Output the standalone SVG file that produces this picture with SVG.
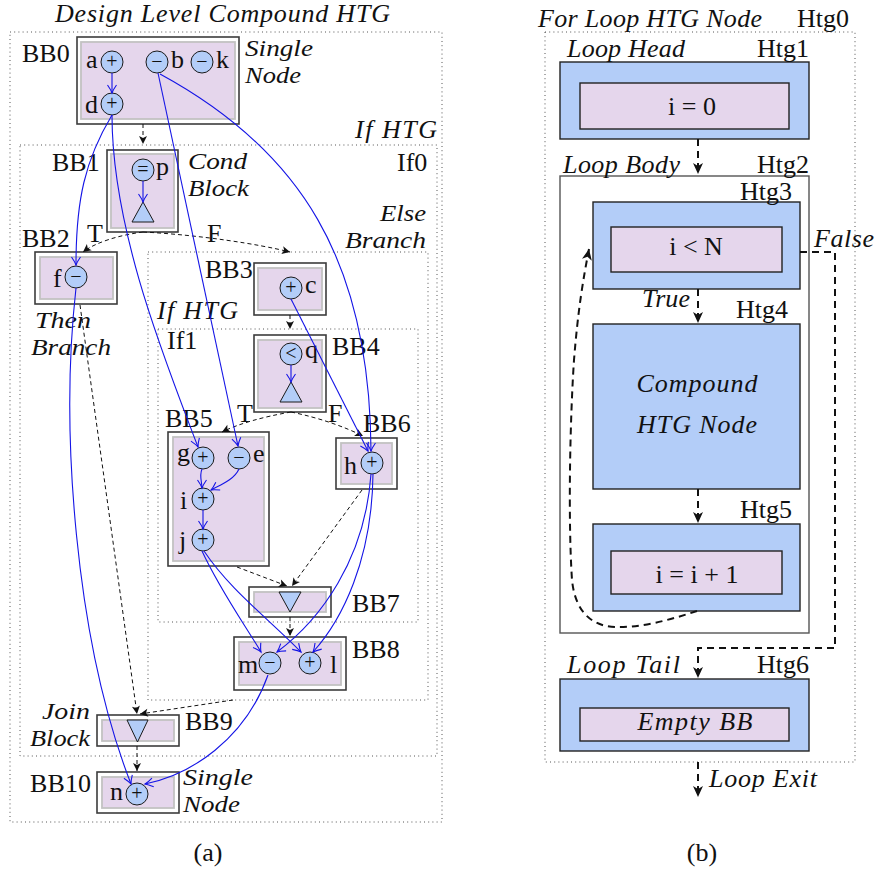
<svg xmlns="http://www.w3.org/2000/svg" width="876" height="877" viewBox="0 0 876 877">
<style>
  text { font-family: "Liberation Serif", "Times New Roman", serif; fill: #111; }
  .lb { font-size: 26px; }
  .it { font-size: 26px; font-style: italic; }
  .it2 { font-size: 24px; font-style: italic; }
  .sym { font-size: 20px; text-anchor: middle; }
  .bbo { fill: #fff; stroke: #3c3c3c; stroke-width: 1.6; }
  .bbi { fill: #e5d6ec; stroke: #c2c2c2; stroke-width: 1.8; }
  .op { fill: #b3cdf8; stroke: #1a1a1a; stroke-width: 1; }
  .region { fill: none; stroke: #555; stroke-width: 1; stroke-dasharray: 1 3.2; }
  .df { fill: none; stroke: #1414e6; stroke-width: 1.1; marker-end: url(#va); }
  .cf { fill: none; stroke: #111; stroke-width: 1; stroke-dasharray: 4 3; marker-end: url(#ca); }
  .htg { fill: #b3cdf8; stroke: #222; stroke-width: 1.4; }
  .htgi { fill: #e5d6ec; stroke: #222; stroke-width: 1.4; }
  .lf { fill: none; stroke: #111; stroke-width: 2; stroke-dasharray: 7 5; marker-end: url(#la); }
</style>
<defs>
  <marker id="va" markerUnits="userSpaceOnUse" viewBox="-10 -6 12 12" markerWidth="12" markerHeight="12" refX="0" refY="0" orient="auto">
    <path d="M-8,-4.5 Q-3,-1 0,0 Q-3,1 -8,4.5" fill="none" stroke="#1414e6" stroke-width="1.1"/>
  </marker>
  <marker id="ca" markerUnits="userSpaceOnUse" viewBox="-10 -6 12 12" markerWidth="12" markerHeight="12" refX="0" refY="0" orient="auto">
    <path d="M-8,-4 L0,0 L-8,4 L-6,0 Z" fill="#111"/>
  </marker>
  <marker id="la" markerUnits="userSpaceOnUse" viewBox="-13 -7 15 14" markerWidth="15" markerHeight="14" refX="0" refY="0" orient="auto">
    <path d="M-11,-5 L0,0 L-11,5 L-8,0 Z" fill="#111"/>
  </marker>
</defs>
<rect width="876" height="877" fill="#fff"/>

<!-- ===== (a) design level compound HTG ===== -->
<g id="regions-a">
  <rect class="region" x="10" y="32" width="432" height="790"/>
  <text class="it" x="55" y="22" font-size="25" textLength="335">Design Level Compound HTG</text>
  <rect class="region" x="20" y="145" width="417" height="611"/>
  <text class="it" x="437" y="138" text-anchor="end" textLength="82">If HTG</text>
  <text class="lb" x="397" y="171">If0</text>
  <rect class="region" x="148" y="252" width="280" height="448"/>
  <text class="it2" x="426" y="221" text-anchor="end" textLength="46" lengthAdjust="spacingAndGlyphs">Else</text>
  <text class="it2" x="426" y="248" text-anchor="end" textLength="81" lengthAdjust="spacingAndGlyphs">Branch</text>
  <rect class="region" x="158" y="329" width="260" height="293"/>
  <text class="it" x="157" y="319" textLength="81">If HTG</text>
  <text class="lb" x="167" y="349">If1</text>
  <text class="it2" x="35" y="328" textLength="56" lengthAdjust="spacingAndGlyphs">Then</text>
  <text class="it2" x="31" y="355" textLength="80" lengthAdjust="spacingAndGlyphs">Branch</text>
</g>

<g id="bb0">
  <rect class="bbo" x="77" y="37" width="162" height="87"/>
  <rect class="bbi" x="81" y="42" width="154" height="77"/>
  <text class="lb" x="22" y="62">BB0</text>
  <text class="it2" x="245" y="56" textLength="68" lengthAdjust="spacingAndGlyphs">Single</text>
  <text class="it2" x="245" y="83" textLength="56" lengthAdjust="spacingAndGlyphs">Node</text>
  <circle class="op" cx="112" cy="62" r="11"/><text class="sym" x="112" y="68">+</text>
  <text class="lb" x="86" y="68">a</text>
  <circle class="op" cx="157" cy="62" r="11"/><text class="sym" x="157" y="68">−</text>
  <text class="lb" x="171" y="68">b</text>
  <circle class="op" cx="202" cy="62" r="11"/><text class="sym" x="202" y="68">−</text>
  <text class="lb" x="216" y="68">k</text>
  <circle class="op" cx="112" cy="104" r="11"/><text class="sym" x="112" y="110">+</text>
  <text class="lb" x="85" y="113">d</text>
</g>

<g id="bb1">
  <rect class="bbo" x="107" y="150" width="71" height="82"/>
  <rect class="bbi" x="111" y="154" width="63" height="74"/>
  <text class="lb" x="52" y="171">BB1</text>
  <text class="it2" x="188" y="169" textLength="59" lengthAdjust="spacingAndGlyphs">Cond</text>
  <text class="it2" x="188" y="196" textLength="61" lengthAdjust="spacingAndGlyphs">Block</text>
  <circle class="op" cx="143" cy="170" r="11"/><text class="sym" x="143" y="176">=</text>
  <text class="lb" x="156" y="175">p</text>
  <polygon class="op" points="132,222 154,222 143,202"/>
</g>

<g id="bb2">
  <rect class="bbo" x="35" y="252" width="82" height="52"/>
  <rect class="bbi" x="40" y="257" width="73" height="42"/>
  <text class="lb" x="22" y="247">BB2</text>
  <circle class="op" cx="76" cy="277" r="11"/><text class="sym" x="76" y="283">−</text>
  <text class="lb" x="53" y="287">f</text>
</g>

<g id="bb3">
  <rect class="bbo" x="254" y="263" width="72" height="52"/>
  <rect class="bbi" x="258" y="268" width="64" height="42"/>
  <text class="lb" x="205" y="278">BB3</text>
  <circle class="op" cx="291" cy="288" r="11"/><text class="sym" x="291" y="294">+</text>
  <text class="lb" x="305" y="293">c</text>
</g>

<g id="bb4">
  <rect class="bbo" x="254" y="335" width="72" height="77"/>
  <rect class="bbi" x="258" y="340" width="64" height="68"/>
  <text class="lb" x="332" y="355">BB4</text>
  <circle class="op" cx="291" cy="354" r="11"/><text class="sym" x="291" y="360">&lt;</text>
  <text class="lb" x="305" y="358">q</text>
  <polygon class="op" points="280,402 302,402 291,382"/>
</g>

<g id="bb5">
  <rect class="bbo" x="168" y="432" width="101" height="134"/>
  <rect class="bbi" x="173" y="437" width="91" height="124"/>
  <text class="lb" x="165" y="427">BB5</text>
  <circle class="op" cx="203" cy="458" r="11"/><text class="sym" x="203" y="464">+</text>
  <text class="lb" x="177" y="461">g</text>
  <circle class="op" cx="239" cy="458" r="11"/><text class="sym" x="239" y="464">−</text>
  <text class="lb" x="253" y="462">e</text>
  <circle class="op" cx="203" cy="499" r="11"/><text class="sym" x="203" y="505">+</text>
  <text class="lb" x="180" y="509">i</text>
  <circle class="op" cx="203" cy="540" r="11"/><text class="sym" x="203" y="546">+</text>
  <text class="lb" x="179" y="549">j</text>
</g>

<g id="bb6">
  <rect class="bbo" x="336" y="438" width="61" height="51"/>
  <rect class="bbi" x="341" y="443" width="51" height="41"/>
  <text class="lb" x="363" y="432">BB6</text>
  <circle class="op" cx="372" cy="463" r="11"/><text class="sym" x="372" y="469">+</text>
  <text class="lb" x="344" y="474">h</text>
</g>

<g id="bb7">
  <rect class="bbo" x="249" y="587" width="82" height="30"/>
  <rect class="bbi" x="254" y="592" width="72" height="20"/>
  <text class="lb" x="352" y="612">BB7</text>
  <polygon class="op" points="279,592 301,592 290,612"/>
</g>

<g id="bb8">
  <rect class="bbo" x="234" y="637" width="112" height="53"/>
  <rect class="bbi" x="239" y="642" width="102" height="43"/>
  <text class="lb" x="352" y="658">BB8</text>
  <circle class="op" cx="270" cy="663" r="11"/><text class="sym" x="270" y="669">−</text>
  <text class="lb" x="238" y="673">m</text>
  <circle class="op" cx="310" cy="663" r="11"/><text class="sym" x="310" y="669">+</text>
  <text class="lb" x="330" y="673">l</text>
</g>

<g id="bb9">
  <rect class="bbo" x="97" y="715" width="82" height="31"/>
  <rect class="bbi" x="102" y="720" width="72" height="21"/>
  <text class="lb" x="185" y="730">BB9</text>
  <text class="it2" x="90" y="719" text-anchor="end" textLength="48" lengthAdjust="spacingAndGlyphs">Join</text>
  <text class="it2" x="90" y="746" text-anchor="end" textLength="60" lengthAdjust="spacingAndGlyphs">Block</text>
  <polygon class="op" points="127,720 148,720 137.5,742"/>
</g>

<g id="bb10">
  <rect class="bbo" x="97" y="772" width="82" height="41"/>
  <rect class="bbi" x="102" y="777" width="72" height="31"/>
  <text class="lb" x="30" y="792" textLength="61">BB10</text>
  <text class="it2" x="183" y="785" textLength="70" lengthAdjust="spacingAndGlyphs">Single</text>
  <text class="it2" x="183" y="812" textLength="57" lengthAdjust="spacingAndGlyphs">Node</text>
  <circle class="op" cx="137" cy="794" r="11"/><text class="sym" x="137" y="800">+</text>
  <text class="lb" x="110" y="800">n</text>
</g>

<g id="connectors-a">
  <!-- control flow -->
  <path class="cf" d="M143,124 L143,144"/>
  <path class="cf" d="M143,232 C120,235 96,242 83,252"/>
  <path class="cf" d="M143,232 C200,235 258,244 290,252"/>
  <text class="lb" x="87" y="242">T</text>
  <text class="lb" x="207" y="242">F</text>
  <path class="cf" d="M290,315 L290,329"/>
  <path class="cf" d="M291,412 C262,417 238,424 222,432"/>
  <path class="cf" d="M291,412 C320,418 345,427 363,436"/>
  <text class="lb" x="237" y="422">T</text>
  <text class="lb" x="328" y="422">F</text>
  <path class="cf" d="M237,567 L287,586"/>
  <path class="cf" d="M362,490 L292,586"/>
  <path class="cf" d="M290,617 L290,636"/>
  <path class="cf" d="M80,305 L137,714"/>
  <path class="cf" d="M233,700 L140,714"/>
  <path class="cf" d="M137,746 L137,771"/>
  <!-- data flow -->
  <path class="df" d="M112,73 L112,93"/>
  <path class="df" d="M143,181 L143,202"/>
  <path class="df" d="M291,365 L291,382"/>
  <path class="df" d="M112,115 C85,160 76,200 76,265"/>
  <path class="df" d="M112,115 C112,230 165,360 198,447"/>
  <path class="df" d="M158,73 L238,446"/>
  <path class="df" d="M160,74 C300,150 370,260 371,451"/>
  <path class="df" d="M291,299 L368,451"/>
  <path class="df" d="M202,469 C199,476 202,482 202,488"/>
  <path class="df" d="M239,469 C234,480 220,485 211,490"/>
  <path class="df" d="M203,510 L203,529"/>
  <path class="df" d="M202,551 C220,590 245,625 261,652"/>
  <path class="df" d="M204,551 C230,590 270,620 301,652"/>
  <path class="df" d="M371,474 C365,560 320,620 277,652"/>
  <path class="df" d="M373,474 C372,560 342,620 313,652"/>
  <path class="df" d="M268,675 C245,740 190,775 145,784"/>
  <path class="df" d="M76,288 C60,430 75,640 131,784"/>
</g>
<text class="lb" x="208" y="861" text-anchor="middle">(a)</text>

<!-- ===== (b) for-loop HTG node ===== -->
<g id="htg0">
  <rect class="region" x="545" y="32" width="310" height="730"/>
  <text class="it" x="538" y="27" textLength="224">For Loop HTG Node</text>
  <text class="lb" x="797" y="27">Htg0</text>
</g>
<g id="htg1">
  <rect class="htg" x="560" y="62" width="249" height="77"/>
  <rect class="htgi" x="580" y="83" width="209" height="46"/>
  <text class="it" x="567" y="57" textLength="118">Loop Head</text>
  <text class="lb" x="757" y="57">Htg1</text>
  <text class="lb" x="692" y="115" text-anchor="middle">i = 0</text>
</g>
<g id="htg2">
  <rect x="560" y="176" width="249" height="457" fill="#fff" stroke="#555" stroke-width="1.4"/>
  <text class="it" x="563" y="173" textLength="117">Loop Body</text>
  <text class="lb" x="757" y="173">Htg2</text>
</g>
<g id="htg3">
  <rect class="htg" x="593" y="202" width="207" height="87"/>
  <rect class="htgi" x="611" y="227" width="171" height="45"/>
  <text class="lb" x="740" y="200">Htg3</text>
  <text class="lb" x="696" y="255" text-anchor="middle">i &lt; N</text>
</g>
<g id="htg4">
  <rect class="htg" x="593" y="324" width="207" height="165"/>
  <text class="lb" x="736" y="318">Htg4</text>
  <text class="it" x="697" y="392" text-anchor="middle" textLength="121">Compound</text>
  <text class="it" x="697" y="433" text-anchor="middle" textLength="120">HTG Node</text>
</g>
<g id="htg5">
  <rect class="htg" x="593" y="524" width="207" height="87"/>
  <rect class="htgi" x="611" y="551" width="171" height="43"/>
  <text class="lb" x="740" y="518">Htg5</text>
  <text class="lb" x="697" y="583" text-anchor="middle">i = i + 1</text>
</g>
<g id="htg6">
  <rect class="htg" x="560" y="679" width="249" height="72"/>
  <rect class="htgi" x="580" y="708" width="209" height="33"/>
  <text class="it" x="567" y="673" textLength="113">Loop Tail</text>
  <text class="lb" x="757" y="673">Htg6</text>
  <text class="it" x="695" y="730" text-anchor="middle" textLength="115">Empty BB</text>
</g>
<g id="connectors-b">
  <path class="lf" d="M698,139 L698,174"/>
  <path class="lf" d="M698,289 L698,323"/>
  <path class="lf" d="M698,489 L698,523"/>
  <path class="lf" d="M800,252 L835,252 L835,648 L698,648 L698,678"/>
  <path class="lf" d="M697,611 C670,620 640,628 615,627 C590,626 575,610 572,580 C568,520 570,420 574,360 C578,310 583,280 589,249"/>
  <path class="lf" d="M698,762 L698,797"/>
  <text class="it" x="814" y="247" textLength="60">False</text>
  <text class="it" x="642" y="307" textLength="48">True</text>
  <text class="it" x="709" y="787" textLength="108">Loop Exit</text>
</g>
<text class="lb" x="702" y="861" text-anchor="middle">(b)</text>
</svg>
